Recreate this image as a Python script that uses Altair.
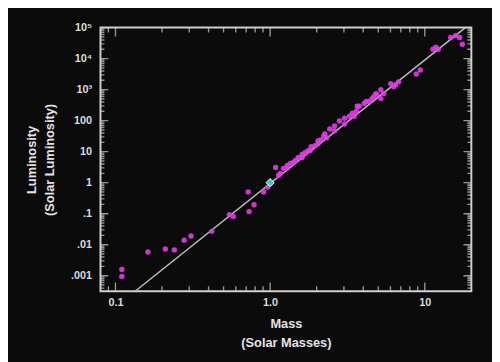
import altair as alt
import pandas as pd

# --- data ---
star_mass = [0.110, 0.110, 0.162, 0.210, 0.240, 0.278, 0.308, 0.419, 0.545, 0.578,
             0.721, 0.731, 0.787, 0.908, 0.966, 1.086, 1.135, 1.168, 1.22, 1.29,
             1.29, 1.35, 1.41, 1.46, 1.52, 1.61, 1.61, 1.68, 1.76, 1.81,
             1.84, 1.95, 2.04, 2.04, 2.13, 2.22, 2.26, 2.32, 2.43, 2.61,
             2.61, 2.81, 3.03, 3.03, 3.26, 3.50, 3.40, 3.61, 3.66, 3.77,
             4.06, 4.18, 4.36, 4.56, 4.69, 4.83, 4.90, 5.20, 5.43, 5.20,
             6.03, 6.30, 6.48, 6.77, 8.81, 9.35, 11.3, 11.8, 12.2, 14.7,
             15.8, 16.8, 17.5]
star_lum = [0.0016, 0.00094, 0.0058, 0.0073, 0.0068, 0.014, 0.019, 0.027, 0.093, 0.081,
            0.50, 0.117, 0.195, 0.50, 0.72, 3.1, 1.74, 2.0, 2.9, 2.9,
            3.6, 4.2, 4.5, 5.2, 6.5, 6.5, 8.1, 9.3, 10.8, 10.8,
            14.5, 15.6, 18, 22, 24, 32, 37, 28, 54, 47,
            67, 97, 78, 120, 139, 139, 173, 200, 290, 290,
            360, 417, 417, 515, 600, 745, 690, 1000, 745, 515,
            1550, 1250, 1440, 1780, 3200, 4300, 20000, 23500, 20000, 48000,
            55000, 48000, 29000]

sun_mass = [1.0]
sun_lum = [1.0]

# mass-luminosity relation line endpoints
line_mass = [0.134, 18.3]
line_lum = [0.000316, 100000]

x_domain = [0.08, 20]
y_domain = [0.000316, 100000]

x_label_values = [0.1, 1, 10]
x_label_texts = ["0.1", "1.0", "10"]
y_label_values = [0.001, 0.01, 0.1, 1, 10, 100, 1000, 10000, 100000]
y_label_texts = [".001", ".01", ".1", "1", "10", "100", "10³", "10⁴", "10⁵"]

x_major_ticks = [0.1, 1, 10]
x_minor_ticks = [0.09, 0.2, 0.3, 0.4, 0.5, 0.6, 0.7, 0.8, 0.9,
                 2, 3, 4, 5, 6, 7, 8, 9]
y_major_ticks = [0.001, 0.01, 0.1, 1, 10, 100, 1000, 10000, 100000]
y_minor_ticks = [m * d for d in [0.0001, 0.001, 0.01, 0.1, 1, 10, 100, 1000, 10000]
                 for m in [2, 3, 4, 5, 6, 7, 8, 9]
                 if 0.000316 < m * d < 100000]


def label_expr(values, texts):
    expr = "''"
    for v, t in zip(values, texts):
        expr = f"(abs(datum.value - {v}) < {v}*0.01) ? '{t}' : " + expr
    return expr


W, H = 377, 268
FG = "#cfcfcf"
FONT = "Liberation Sans"

xs = alt.Scale(type="log", domain=x_domain, nice=False)
ys = alt.Scale(type="log", domain=y_domain, nice=False)

stars = pd.DataFrame({"mass": star_mass, "lum": star_lum})
sun = pd.DataFrame({"mass": sun_mass, "lum": sun_lum})
line = pd.DataFrame({"mass": line_mass, "lum": line_lum})

x_axis = alt.Axis(
    values=x_label_values, labelExpr=label_expr(x_label_values, x_label_texts),
    ticks=False, domain=False, grid=False, labelPadding=5, labelFontSize=11,
    title=["Mass", "(Solar Masses)"], titlePadding=11, titleLineHeight=19,
    titleFontSize=13,
)
y_axis = alt.Axis(
    values=y_label_values, labelExpr=label_expr(y_label_values, y_label_texts),
    ticks=False, domain=False, grid=False, labelPadding=9, labelFontSize=11,
    title=["Luminosity", "(Solar Luminosity)"], titlePadding=14, titleLineHeight=19,
    titleFontSize=13,
)

line_layer = alt.Chart(line).mark_line(color="#bdbdbd", strokeWidth=1.5, clip=True).encode(
    x=alt.X("mass:Q", scale=xs, axis=x_axis),
    y=alt.Y("lum:Q", scale=ys, axis=y_axis),
)

star_layer = alt.Chart(stars).mark_circle(color="#e23ce6", size=30, opacity=0.9, clip=True).encode(
    x=alt.X("mass:Q", scale=xs),
    y=alt.Y("lum:Q", scale=ys),
)

sun_layer = alt.Chart(sun).mark_point(shape="diamond", filled=True, color="#3cc8c8",
                                      size=70, stroke="#e0ffff", strokeWidth=1,
                                      opacity=1).encode(
    x=alt.X("mass:Q", scale=xs),
    y=alt.Y("lum:Q", scale=ys),
)


def xticks(vals, size, ypos):
    d = pd.DataFrame({"v": vals})
    return alt.Chart(d).mark_tick(orient="vertical", size=size, thickness=1.4,
                                  color=FG, clip=True).encode(
        x=alt.X("v:Q", scale=xs), y=alt.value(ypos))


def yticks(vals, size, xpos):
    d = pd.DataFrame({"v": vals})
    return alt.Chart(d).mark_tick(orient="horizontal", size=size, thickness=1.4,
                                  color=FG, clip=True).encode(
        y=alt.Y("v:Q", scale=ys), x=alt.value(xpos))


ticks = [
    xticks(x_major_ticks, 18, H), xticks(x_minor_ticks, 10, H),
    xticks(x_major_ticks, 18, 0), xticks(x_minor_ticks, 10, 0),
    yticks(y_major_ticks, 16, 0), yticks(y_minor_ticks, 8, 0),
    yticks(y_major_ticks, 16, W), yticks(y_minor_ticks, 8, W),
]

chart = alt.layer(line_layer, *ticks, star_layer, sun_layer).properties(
    width=W, height=H,
    autosize=alt.AutoSizeParams(type="none"),
    padding={"left": 94, "top": 17, "right": 21, "bottom": 69},
).configure(
    background="#0b0b0b", font=FONT,
).configure_view(
    stroke=FG, strokeWidth=2,
).configure_axis(
    labelColor="#dcdcdc", titleColor="#e4e4e4", labelFont=FONT, titleFont=FONT,
    labelFontWeight="bold", titleFontWeight="bold",
)

chart.save("out.html", embed_options={"renderer": "svg", "actions": False})
